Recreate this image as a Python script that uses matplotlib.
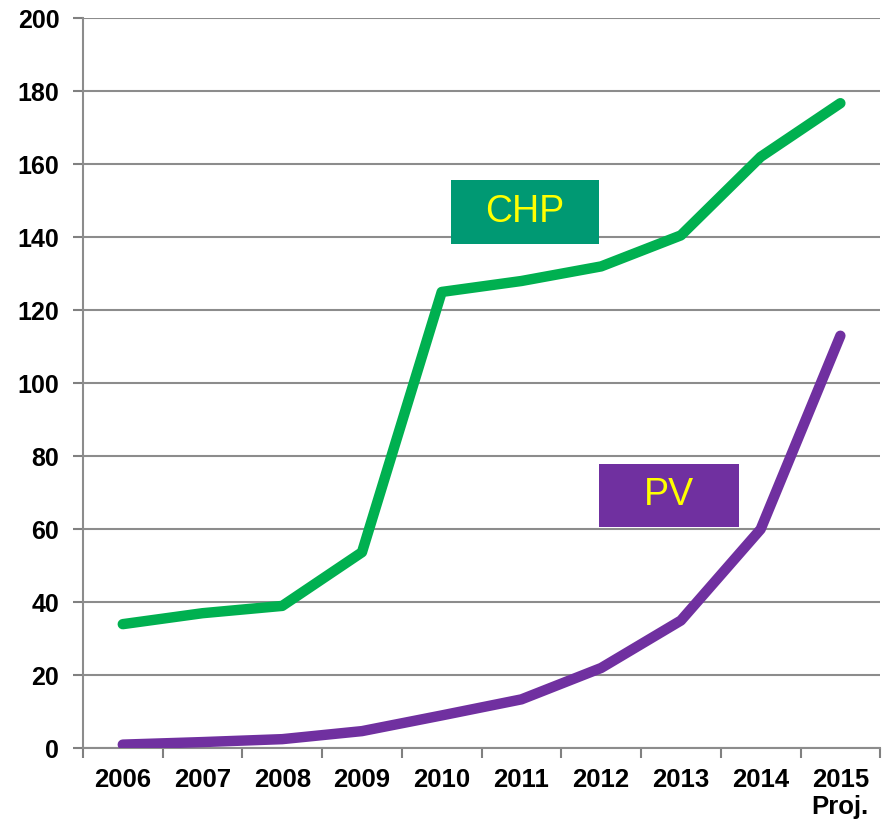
import matplotlib.pyplot as plt
from matplotlib.patches import Rectangle

plt.rcParams['font.family'] = ['Liberation Sans', 'DejaVu Sans']

years = ['2006', '2007', '2008', '2009', '2010', '2011', '2012', '2013', '2014', '2015\nProj.']
chp = [34, 37, 39, 53.7, 125, 128, 132, 140.5, 162, 176.7]
pv = [1, 1.7, 2.5, 4.7, 9, 13.4, 22, 35, 60, 113]

fig = plt.figure(figsize=(8.82, 8.25), dpi=100)
ax = fig.add_axes([0.094, 0.093, 0.904, 0.885])

x = list(range(len(years)))
ax.plot(x, chp, color='#00B050', lw=7.5, solid_capstyle='round', solid_joinstyle='round', zorder=3)
ax.plot(x, pv, color='#7030A0', lw=7.5, solid_capstyle='round', solid_joinstyle='round', zorder=3)

ax.set_ylim(0, 200)
ax.set_xlim(-0.5, len(years) - 0.5)
ax.set_yticks(range(0, 201, 20))
ax.set_yticklabels([str(v) for v in range(0, 201, 20)], fontsize=18, fontweight='bold')
ax.set_xticks(x)
ax.set_xticklabels(years, fontsize=18.5, fontweight='bold', linespacing=1.15)
ax.set_xticks([i - 0.5 for i in range(len(years) + 1)], minor=True)
ax.tick_params(axis='x', which='major', length=0, pad=14)
ax.tick_params(axis='x', which='minor', length=7, color='#808080', width=1.5)
ax.tick_params(axis='y', length=7, color='#808080', width=1.5, pad=10)
ax.grid(axis='y', color='#8c8c8c', lw=1.5)
ax.set_axisbelow(True)
for s in ['top', 'right']:
    ax.spines[s].set_visible(False)
for s in ['left', 'bottom']:
    ax.spines[s].set_color('#8c8c8c')
    ax.spines[s].set_linewidth(1.5)

# label boxes
ax.add_patch(Rectangle((0.462, 0.690), 0.185, 0.088, transform=ax.transAxes,
                       facecolor='#009973', edgecolor='none', zorder=4))
ax.text(0.5545, 0.734, 'CHP', transform=ax.transAxes, ha='center', va='center',
        fontsize=27, color='#FFFF00', zorder=5)
ax.add_patch(Rectangle((0.647, 0.303), 0.176, 0.087, transform=ax.transAxes,
                       facecolor='#7030A0', edgecolor='none', zorder=4))
ax.text(0.735, 0.3465, 'PV', transform=ax.transAxes, ha='center', va='center',
        fontsize=27, color='#FFFF00', zorder=5)

fig.savefig('out.png', dpi=100)
